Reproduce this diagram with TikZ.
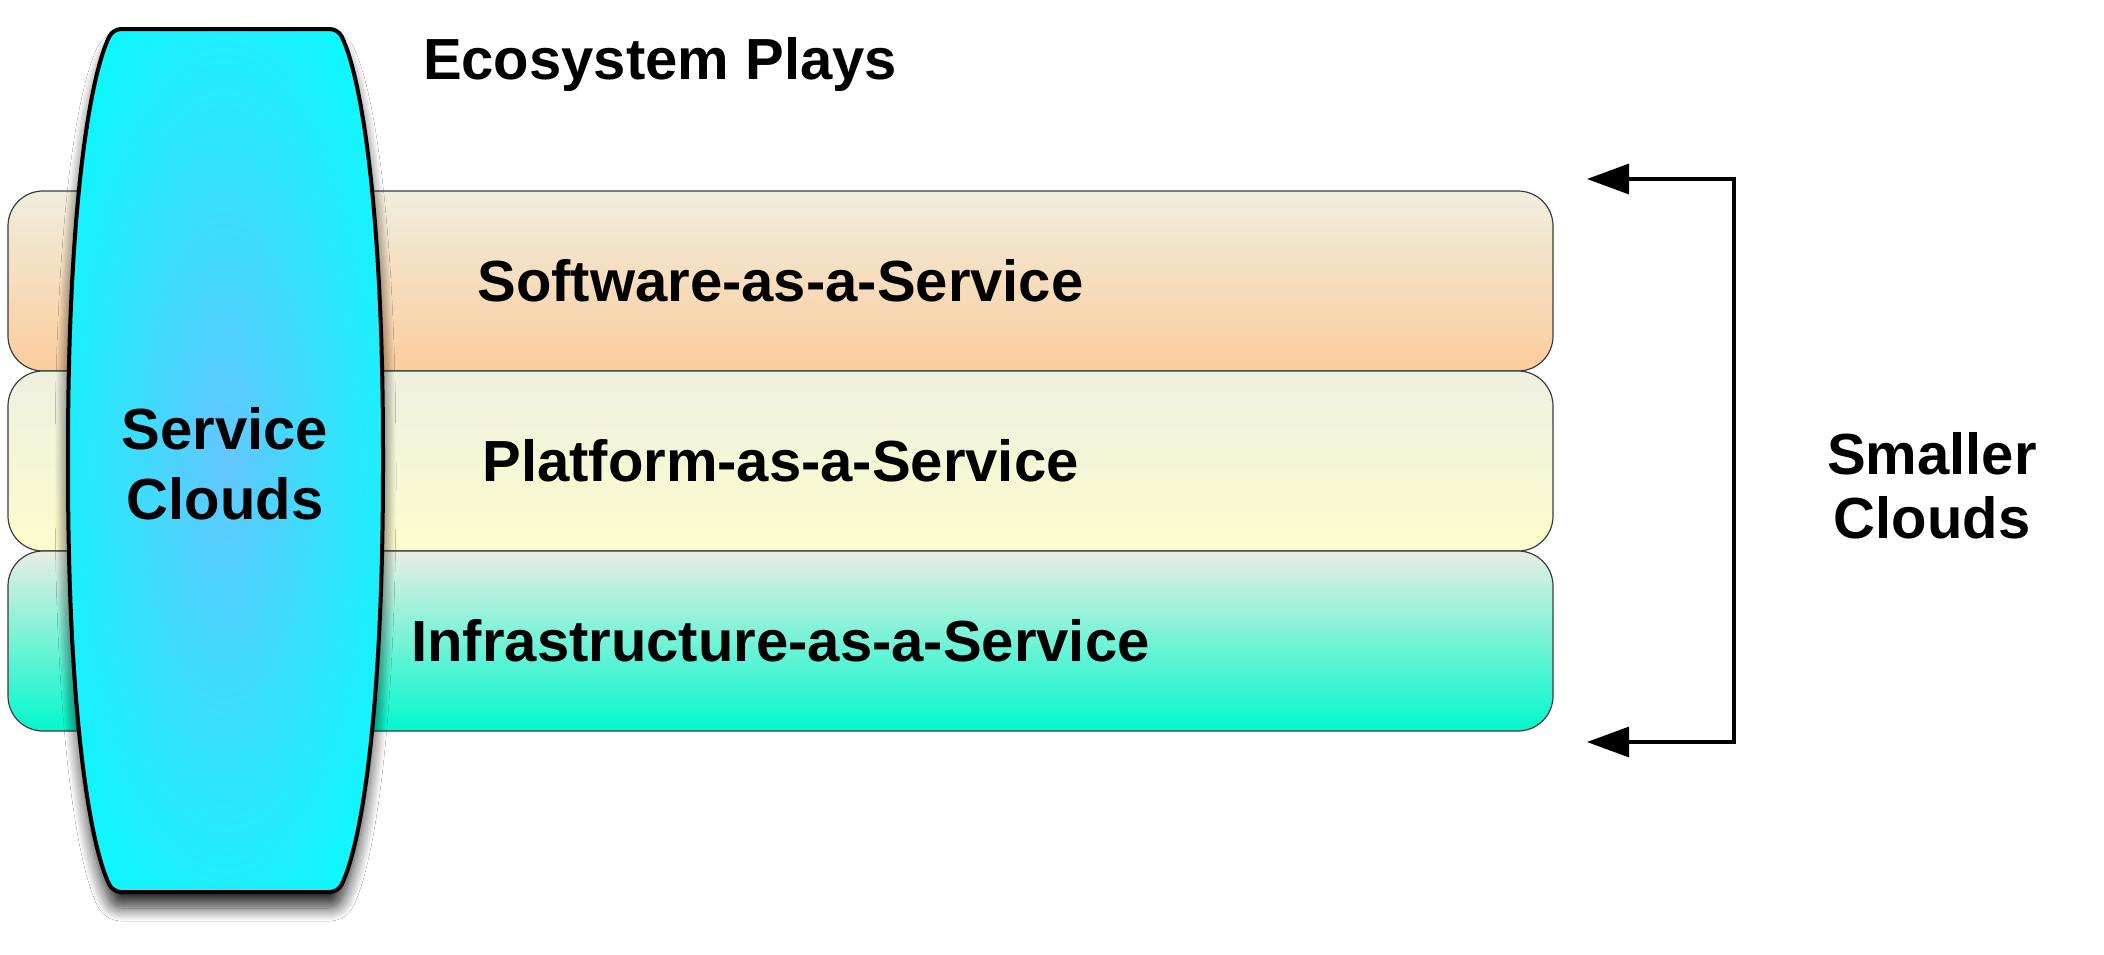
\documentclass[tikz,border=0pt]{standalone}
\usepackage{fontspec}
\setmainfont{Liberation Sans}
\usetikzlibrary{arrows.meta,shadows.blur}
\definecolor{saastop}{RGB}{240,237,222}
\definecolor{saasbot}{RGB}{252,204,156}
\definecolor{paastop}{RGB}{238,240,224}
\definecolor{paasbot}{RGB}{252,252,204}
\definecolor{iaastop}{RGB}{232,238,226}
\definecolor{iaasbot}{RGB}{0,248,204}
\definecolor{svccyan}{RGB}{0,255,255}
\definecolor{svcmid}{RGB}{100,198,255}
\definecolor{layerline}{RGB}{60,60,60}
\pgfdeclareradialshading{barrelshade}{\pgfpoint{0bp}{0bp}}{color(0bp)=(svcmid); color(35bp)=(svccyan); color(50bp)=(svccyan)}
\tikzset{
  bigtext/.style={font=\bfseries\fontsize{58}{70}\selectfont, text=black, inner sep=0pt},
  layer/.style={draw=layerline, line width=1.2pt, rounded corners=35pt,
    minimum width=1545pt, minimum height=180pt, inner sep=0pt,
    font=\bfseries\fontsize{58}{70}\selectfont},
  barrel/.style={draw=black, line width=4pt, shading=barrelshade, rounded corners=8pt,
    blur shadow={shadow xshift=0pt, shadow yshift=-16pt, shadow blur radius=13pt, shadow blur steps=12, shadow opacity=80}},
  conn/.style={draw=black, line width=3.2pt, line join=miter,
    {Triangle[length=42pt,width=30pt]}-{Triangle[length=42pt,width=30pt]}}
}
\begin{document}
\begin{tikzpicture}[x=1pt,y=-1pt]
\useasboundingbox[fill=white] (0,0) rectangle (2104,954);
% layers
\node[layer, top color=saastop, bottom color=saasbot] (saas) at (780.5,281) {Software-as-a-Service};
\node[layer, top color=paastop, bottom color=paasbot] (paas) at (780.5,461) {Platform-as-a-Service};
\node[layer, top color=iaastop, bottom color=iaasbot] (iaas) at (780.5,641) {Infrastructure-as-a-Service};
% service clouds barrel
\path[barrel] (225,29) -- (338,29)
  .. controls (363,80) and (383,220) .. (383,460)
  .. controls (383,701) and (363,841) .. (338,892)
  -- (113,892)
  .. controls (88,841) and (68,701) .. (68,460)
  .. controls (68,220) and (88,80) .. (113,29) -- cycle;
\node[bigtext, align=center] (svc) at (225,464) {Service\\Clouds};
% title
\node[bigtext] (title) at (660,64) {Ecosystem Plays};
% bracket arrow
\coordinate (atop) at (1587,179);
\coordinate (rtop) at (1734,179);
\coordinate (rbot) at (1734,742);
\coordinate (abot) at (1587,742);
\draw[conn] (atop) -- (rtop) -- (rbot) -- (abot);
\node[bigtext, align=center, font=\bfseries\fontsize{58}{64}\selectfont] (smaller) at (1932,486) {Smaller\\Clouds};
\end{tikzpicture}
\end{document}
